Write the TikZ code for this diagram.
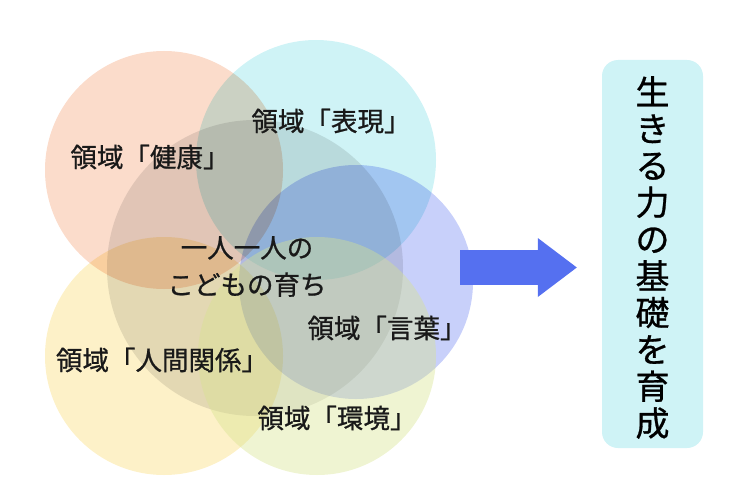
\documentclass[tikz,border=0pt]{standalone}
\usepackage{fontspec}
\newfontfamily\jpfont{Noto Sans CJK JP}[FakeBold=0.8]
\usetikzlibrary{arrows.meta}
\definecolor{kenkocol}{HTML}{FBDCCB}
\definecolor{hyogencol}{HTML}{CFF3F6}
\definecolor{kotobacol}{HTML}{C8D0FA}
\definecolor{ningencol}{HTML}{FDF1C8}
\definecolor{kankyocol}{HTML}{D7E38E}
\definecolor{kodomocol}{HTML}{E5E5E5}
\definecolor{arrowcol}{HTML}{5570F0}
\definecolor{goalcol}{HTML}{CFF3F6}
\begin{document}
\begin{tikzpicture}[x=1pt, y=-1pt, line join=round,
    area/.style={circle, inner sep=0pt, minimum size=238pt},
    areatext/.style={font=\jpfont\fontsize{26.5pt}{37pt}\selectfont, text=black!90, inner sep=0pt},
    goalbox/.style={fill=goalcol, rounded corners=16pt, minimum width=101pt, minimum height=388pt},
    bigarrow/.style={draw=arrowcol, line width=35pt, -{Triangle[length=39pt, width=59pt, line width=0pt]}}]
    \useasboundingbox (0,0) rectangle (736,500);
    % circles
    \begin{scope}[blend group=multiply]
        \node[area, fill=kenkocol] (kenko) at (164,170) {};
        \node[area, fill=hyogencol, minimum size=240pt] (hyogen) at (316,160) {};
        \node[area, fill=ningencol] (ningen) at (164,356) {};
        \node[area, fill=kotobacol, minimum size=234pt] (kotoba) at (356,282) {};
        \node[area, fill=kodomocol, minimum size=296pt] (kodomo) at (255,268) {};
    \end{scope}
    \node[area, fill=kankyocol, fill opacity=0.4] (kankyo) at (317,356) {};
    % labels
    \node[areatext] (kenkotext) at (150,157) {領域「健康」};
    \node[areatext] (hyogentext) at (331,121) {領域「表現」};
    \node[areatext] (kototext) at (387,328) {領域「言葉」};
    \node[areatext] (ningentext) at (162,360) {領域「人間関係」};
    \node[areatext] (kankyotext) at (337,418) {領域「環境」};
    \node[areatext, align=center] (sodachi) at (247,266.5) {一人一人の\\こどもの育ち};
    % goal
    \node[goalbox] (goal) at (652.5,254) {};
    \node[font=\jpfont\fontsize{34pt}{36.8pt}\selectfont, align=center, inner sep=0pt]
        (goaltext) at ([yshift=-3.5pt]goal.center) {生\\き\\る\\力\\の\\基\\礎\\を\\育\\成};
    \coordinate (arrowtail) at (460,267.5);
    \draw[bigarrow, shorten >=25pt] (arrowtail) -- (arrowtail -| goal.west);
\end{tikzpicture}
\end{document}
